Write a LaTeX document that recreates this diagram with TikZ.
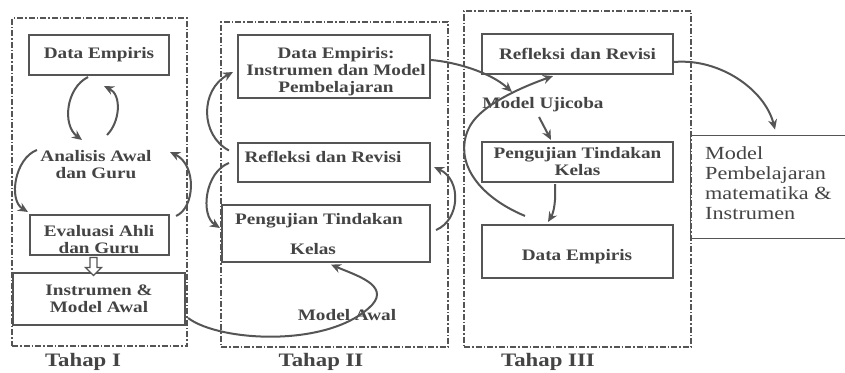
\documentclass[tikz,border=0pt]{standalone}
\usepackage{fontspec}
\setmainfont{Liberation Serif}
\newfontfamily\diagfont[FakeStretch=1.2]{Liberation Serif}
\usetikzlibrary{arrows.meta,calc}
\definecolor{linegray}{RGB}{85,85,85}
\definecolor{inkgray}{RGB}{68,68,68}
\newcommand\boxtxt{\diagfont\bfseries\fontsize{16}{17}\selectfont}
\newcommand\stagetxt{\diagfont\bfseries\fontsize{19}{21}\selectfont}
\newcommand\plaintxt{\diagfont\fontsize{18.5}{20}\selectfont}

\begin{document}
\begin{tikzpicture}[x=1pt,y=-1pt,
  stage/.style={draw=linegray, line width=1.4pt,
    dash pattern=on 6pt off 2pt on 1.5pt off 2pt},
  box/.style={draw=linegray, line width=2.1pt, inner sep=0pt},
  lbl/.style={inner sep=0pt, font=\boxtxt, text=inkgray, align=center},
  flow/.style={draw=linegray, line width=2pt,
    -{Stealth[length=10pt,width=9pt]}}]

\clip (0,0) rectangle (845,372);
\fill[white] (0,0) rectangle (845,372);

% ---------- Tahap I ----------
\node[stage, minimum width=175pt, minimum height=328pt] (frameI) at (99.5,182) {};
\node[box, lbl, minimum width=140pt, minimum height=40pt] (deI) at (99,55) {Data Empiris};
\node[lbl] (anI) at (96,165) {Analisis Awal\\dan Guru};
\node[box, minimum width=139pt, minimum height=40pt] (evI) at (99.5,235) {};
\node[lbl] (evIt) at (99,240) {Evaluasi Ahli\\dan Guru};
\node[box, lbl, minimum width=172pt, minimum height=52pt] (inI) at (99,299) {Instrumen \&\\Model Awal};
\node[inner sep=0pt, font=\stagetxt, text=inkgray] (tI) at (83,362) {Tahap I};

% ---------- Tahap II ----------
\node[stage, minimum width=227pt, minimum height=325pt] (frameII) at (334.5,184.5) {};
\node[box, minimum width=192pt, minimum height=63pt] (deII) at (334,66.5) {};
\node[lbl] (deIIt) at (336,72) {Data Empiris:\\Instrumen dan Model\\Pembelajaran};
\node[box, minimum width=192pt, minimum height=39pt] (reII) at (334,162.5) {};
\node[lbl] (reIIt) at (323,157) {Refleksi dan Revisi};
\node[box, minimum width=208pt, minimum height=57pt] (ptII) at (326,233.5) {};
\node[lbl] (ptIIa) at (319,221) {Pengujian Tindakan};
\node[lbl] (ptIIb) at (313,249) {Kelas};
\node[lbl] (maII) at (347,315) {Model Awal};
\node[inner sep=0pt, font=\stagetxt, text=inkgray] (tII) at (321,362) {Tahap II};

% ---------- Tahap III ----------
\node[stage, minimum width=227pt, minimum height=336pt] (frameIII) at (577.5,179) {};
\node[box, lbl, minimum width=191pt, minimum height=40pt] (reIII) at (577.5,54) {Refleksi dan Revisi};
\node[lbl] (muIII) at (543,105) {Model Ujicoba};
\node[box, lbl, minimum width=191pt, minimum height=40pt] (ptIII) at (577.5,162) {Pengujian Tindakan\\Kelas};
\node[box, minimum width=191pt, minimum height=53pt] (deIII) at (577.5,251.5) {};
\node[lbl] (deIIIt) at (577,257) {Data Empiris};
\node[inner sep=0pt, font=\stagetxt, text=inkgray] (tIII) at (548,362) {Tahap III};

% ---------- result ----------
\node[draw=linegray, line width=0.9pt, minimum width=160pt, minimum height=103pt] (mp) at (770,186.5) {};
\node[inner sep=0pt, anchor=west, align=left, font=\plaintxt, text=inkgray] (mpt) at (705,183)
  {Model\\Pembelajaran\\matematika \&\\Instrumen};

% ---------- connectors, Tahap I ----------
\draw[flow] ($(deI.south)+(-11,1)$) .. controls (66,88) and (62,125) .. ($(anI.center)+(-14,-25)$);
\draw[flow] ($(anI.center)+(11,-30)$) .. controls (120,122) and (122,95) .. ($(deI.south)+(5,10)$);
\draw[flow] ($(anI.center)+(-59,-15)$) .. controls (15,158) and (8,200) .. ($(evI.north west)+(-1,-2)$);
\draw[flow] ($(evI.north east)+(6,2)$) .. controls (195,208) and (197,165) .. ($(anI.center)+(74,-13)$);
\draw[draw=linegray, line width=1.2pt, fill=white]
  ($(evI.south)+(-9.5,1.5)$) -- ++(7,0) -- ++(0,10) -- ++(4.5,0) -- ++(-8,8)
  -- ++(-8,-8) -- ++(4.5,0) -- cycle;

% ---------- connectors, Tahap II ----------
\draw[flow] ($(reII.west)+(-8,-12)$) .. controls (200,135) and (200,90) .. ($(deII.west)+(-4,5.5)$);
\draw[flow] ($(reII.west)+(-8,0.5)$) .. controls (205,172) and (200,215) .. ($(ptII.west)+(-1,-5.5)$);
\draw[flow] ($(ptII.east)+(5,-3.5)$) .. controls (460,220) and (462,180) .. ($(reII.east)+(3,4.5)$);
\draw[flow] ($(inI.east)+(2,19)$) .. controls (220,342) and (330,348) .. (372,305)
  .. controls (390,285) and (355,275) .. ($(ptII.south)+(5,1.5)$);

% ---------- connectors, Tahap III ----------
\draw[flow] ($(deII.east)+(0,-6.5)$) .. controls (455,62) and (490,72) .. ($(muIII.center)+(-31,-13)$);
\draw[flow] ($(deIII.north)+(-52.5,-8)$) .. controls (475,195) and (455,160) .. (468,130)
  .. controls (478,105) and (525,86) .. ($(reIII.south)+(-24.5,1)$);
\draw[flow] ($(muIII.center)+(-4,12)$) -- ($(ptIII.north)+(-26.5,-1)$);
\draw[flow] ($(ptIII.south)+(-22.5,1)$) .. controls (556,200) and (554,212) .. ($(deIII.north)+(-29.5,-2)$);
\draw[flow] ($(reIII.east)+(0,8)$) .. controls (720,58) and (765,90) .. ($(mp.north)+(5,-5)$);

\end{tikzpicture}
\end{document}
